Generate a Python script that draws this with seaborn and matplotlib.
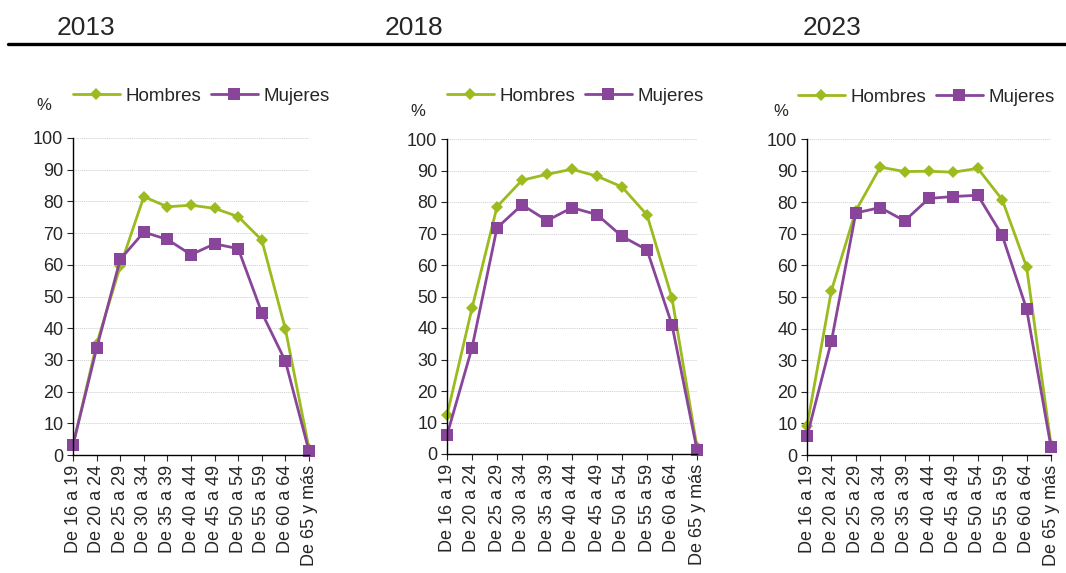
import pandas as pd
import matplotlib.pyplot as plt
import seaborn as sns

sns.set_style("white")
plt.rcParams["font.family"] = ["Liberation Sans", "DejaVu Sans"]

edades = ["De 16 a 19", "De 20 a 24", "De 25 a 29", "De 30 a 34", "De 35 a 39",
          "De 40 a 44", "De 45 a 49", "De 50 a 54", "De 55 a 59", "De 60 a 64",
          "De 65 y más"]
anios = ["2013", "2018", "2023"]

hombres_2013 = [3.0, 35.0, 59.5, 81.5, 78.3, 78.8, 77.8, 75.2, 67.8, 39.7, 2.0]
mujeres_2013 = [3.2, 33.6, 61.7, 70.3, 68.0, 63.2, 66.6, 65.1, 44.9, 29.6, 1.2]
hombres_2018 = [12.3, 46.3, 78.5, 86.9, 88.8, 90.4, 88.2, 84.8, 75.9, 49.5, 2.2]
mujeres_2018 = [6.0, 33.7, 71.8, 79.1, 74.1, 78.2, 76.0, 69.1, 64.8, 41.0, 1.3]
hombres_2023 = [9.2, 52.0, 77.3, 91.1, 89.7, 89.8, 89.5, 90.7, 80.8, 59.5, 3.3]
mujeres_2023 = [5.9, 36.0, 76.6, 78.3, 74.1, 81.2, 81.8, 82.2, 69.5, 46.2, 2.5]

series = {
    "2013": (hombres_2013, mujeres_2013),
    "2018": (hombres_2018, mujeres_2018),
    "2023": (hombres_2023, mujeres_2023),
}

VERDE = "#9bbb1e"
MORADO = "#88459a"

fig = plt.figure(figsize=(10.66, 5.73), dpi=100)
W, H = 1066, 573

# (left, right, top, bottom) in pixels
cajas = [(73, 309, 138, 455), (447, 697, 139, 454), (807, 1051, 139, 455)]
leyendas = [(73, 96), (447, 96), (798, 97)]
porcentajes = [(44, 105), (418, 111), (781, 111)]
titulos = [(57, 28), (385, 28), (803, 28)]

for i, anio in enumerate(anios):
    l, r, t, b = cajas[i]
    ax = fig.add_axes([l / W, 1 - b / H, (r - l) / W, (b - t) / H])
    h, m = series[anio]
    df = pd.DataFrame({
        "x": list(range(len(edades))) * 2,
        "valor": h + m,
        "sexo": ["Hombres"] * len(h) + ["Mujeres"] * len(m),
    })
    sns.lineplot(data=df, x="x", y="valor", hue="sexo", style="sexo",
                 palette={"Hombres": VERDE, "Mujeres": MORADO},
                 markers={"Hombres": "D", "Mujeres": "s"}, dashes=False,
                 linewidth=2.0, markeredgewidth=0, ax=ax, legend=True)
    for ln in ax.lines:
        ln.set_clip_on(False)
        if ln.get_marker() == "D":
            ln.set_markersize(6.5)
        elif ln.get_marker() == "s":
            ln.set_markersize(8)

    ax.set_xlim(0, len(edades) - 1)
    ax.set_ylim(0, 100)
    ax.set_yticks(range(0, 101, 10))
    ax.set_xticks(range(len(edades)))
    ax.set_xticklabels(edades, rotation=90, fontsize=13)
    ax.tick_params(axis="y", labelsize=13, length=4, width=0.8, left=True, pad=3)
    ax.tick_params(axis="x", length=4, width=0.8, bottom=True, pad=3)
    ax.set_xlabel("")
    ax.set_ylabel("")
    ax.yaxis.grid(True, color="#cfcfcf", linestyle=(0, (1.5, 1)), linewidth=0.6)
    ax.xaxis.grid(False)
    sns.despine(ax=ax)
    for s in ["left", "bottom"]:
        ax.spines[s].set_color("black")
        ax.spines[s].set_linewidth(1.0)

    handles, labels = ax.get_legend_handles_labels()
    for hd in handles:
        hd.set_markeredgewidth(0)
        hd.set_linewidth(2.0)
    lx, ly = leyendas[i]
    ax.legend(handles, labels, loc="center left", ncol=2, frameon=False,
              bbox_to_anchor=((lx - l) / (r - l), (b - ly) / (b - t)),
              borderaxespad=0, borderpad=0, handlelength=2.5,
              handletextpad=0.3, columnspacing=0.5, fontsize=13.5)

    px, py = porcentajes[i]
    fig.text(px / W, 1 - py / H, "%", ha="center", va="center", fontsize=12)
    tx, ty = titulos[i]
    fig.text(tx / W, 1 - ty / H, anio, ha="left", va="center", fontsize=19)

fig.add_artist(plt.Line2D([8 / W, 1], [1 - 44 / H] * 2, color="black",
                          linewidth=2.4, transform=fig.transFigure))

fig.savefig("out.png", dpi=100)
